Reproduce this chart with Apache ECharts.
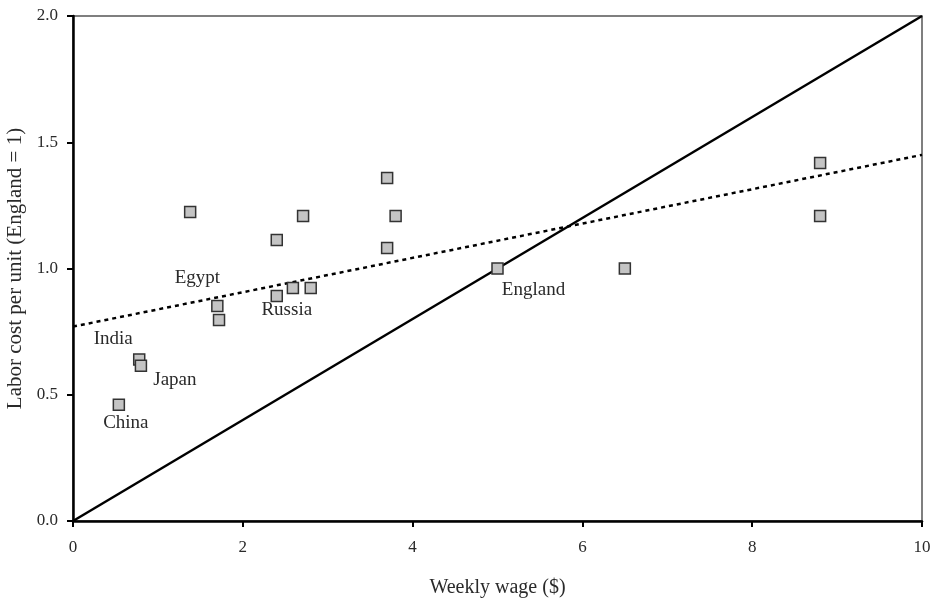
<!DOCTYPE html>
<html>
<head>
<meta charset="utf-8">
<script src="https://cdn.jsdelivr.net/npm/echarts@6/dist/echarts.min.js"></script>
<style>
html,body{margin:0;padding:0;background:#fff;}
#c{width:936px;height:599px;}
</style>
</head>
<body>
<div id="c"></div>
<script>
// ---- data ----
const wage = [0.54, 0.78, 0.80, 1.38, 1.70, 1.72, 2.40, 2.40, 2.59, 2.71, 2.80, 3.70, 3.70, 3.80, 5.00, 6.50, 8.80, 8.80];
const cost = [0.46, 0.64, 0.615, 1.224, 0.851, 0.796, 1.113, 0.891, 0.923, 1.208, 0.923, 1.358, 1.081, 1.208, 1.00, 1.00, 1.418, 1.208];
const country = ['China', 'India', 'Japan', '', 'Egypt', '', '', 'Russia', '', '', '', '', '', '', 'England', '', '', ''];
const parityX = [0, 10];
const parityY = [0, 2];
const trendX = [0, 10];
const trendY = [0.77, 1.45];
const xTicks = [0, 2, 4, 6, 8, 10];
const yTicks = [0.0, 0.5, 1.0, 1.5, 2.0];
const xTitle = 'Weekly wage ($)';
const yTitle = 'Labor cost per unit (England = 1)';

// ---- style ----
const FONT = '"Liberation Serif", "DejaVu Serif", serif';
const TXT = '#2a2a2a';
const labelOffset = {
  China: [7, 18], India: [-26, -20], Japan: [34, 14],
  Egypt: [-20, -28], Russia: [10, 14], England: [36, 22]
};

const points = wage.map((x, i) => {
  const name = country[i];
  const d = { value: [x, cost[i]] };
  if (name) {
    d.name = name;
    d.label = {
      show: true, formatter: name, position: 'inside',
      offset: labelOffset[name], color: TXT, fontFamily: FONT, fontSize: 19
    };
  }
  return d;
});

const chart = echarts.init(document.getElementById('c'), null, { renderer: 'canvas' });
chart.setOption({
  animation: false,
  backgroundColor: '#ffffff',
  grid: {
    left: 73, right: 14, top: 16, bottom: 78, containLabel: false, outerBoundsMode: 'none',
    show: true, borderColor: '#555', borderWidth: 1.5, backgroundColor: 'transparent'
  },
  xAxis: {
    type: 'value', min: xTicks[0], max: xTicks[xTicks.length - 1], interval: 2,
    name: xTitle, nameLocation: 'middle', nameGap: 57,
    nameTextStyle: { fontFamily: FONT, fontSize: 20, color: TXT },
    axisLine: { show: true, lineStyle: { color: '#000', width: 2.5 } },
    axisTick: { show: true, length: 6, lineStyle: { color: '#000', width: 2 } },
    axisLabel: { margin: 18, fontFamily: FONT, fontSize: 17, color: TXT, formatter: v => String(v) },
    splitLine: { show: false }
  },
  yAxis: {
    type: 'value', min: yTicks[0], max: yTicks[yTicks.length - 1], interval: 0.5,
    name: yTitle, nameLocation: 'middle', nameGap: 46, nameRotate: 90,
    nameTextStyle: { fontFamily: FONT, fontSize: 21, color: TXT },
    axisLine: { show: true, lineStyle: { color: '#000', width: 2.5 } },
    axisTick: { show: true, length: 6, lineStyle: { color: '#000', width: 2 } },
    axisLabel: { margin: 15, fontFamily: FONT, fontSize: 17, color: TXT, formatter: v => v.toFixed(1) },
    splitLine: { show: false }
  },
  series: [
    {
      type: 'line', data: parityX.map((x, i) => [x, parityY[i]]),
      symbol: 'none', lineStyle: { color: '#000', width: 2.5 }, z: 2
    },
    {
      type: 'line', data: trendX.map((x, i) => [x, trendY[i]]),
      symbol: 'none', lineStyle: { color: '#000', width: 2.5, type: [4, 4] }, z: 2
    },
    {
      type: 'scatter', data: points, symbol: 'rect', symbolSize: 11,
      itemStyle: { color: '#c4c4c4', borderColor: '#333', borderWidth: 1.5, opacity: 1 },
      z: 3
    }
  ]
});
</script>
</body>
</html>
